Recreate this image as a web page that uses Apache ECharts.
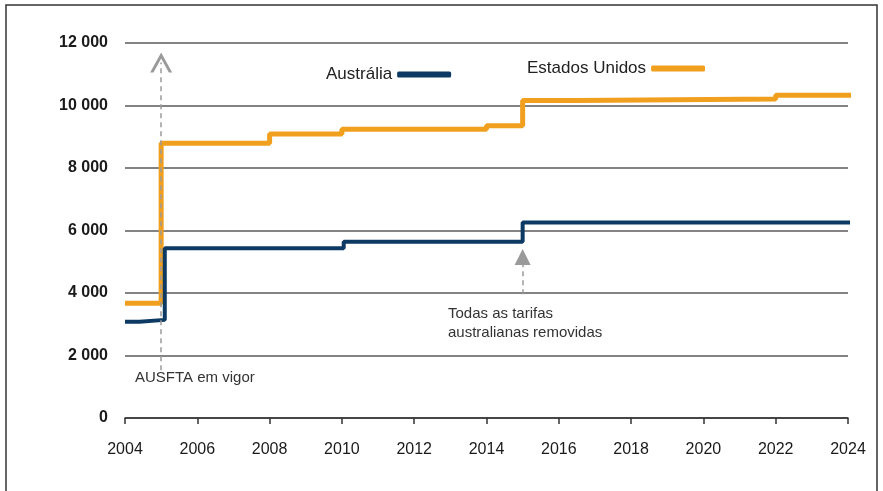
<!DOCTYPE html>
<html>
<head>
<meta charset="utf-8">
<script src="https://cdn.jsdelivr.net/npm/echarts@6/dist/echarts.min.js"></script>
<style>
  html, body { margin: 0; padding: 0; background: #fff; }
  #chart { width: 883px; height: 491px; }
</style>
</head>
<body>
<div id="chart"></div>
<script>
// step data (year of change, level from then on)
var usYears = [2004, 2005, 2008, 2010, 2014, 2015, 2016.5, 2022, 2024.13];
var usValues = [3670, 8790, 9090, 9240, 9350, 10160, 10210, 10330, 10330];
var auYears = [2004, 2004.4, 2005.1, 2010.05, 2015, 2024.08];
var auValues = [3080, 3140, 5430, 5640, 6260, 6260];

var usName = 'Estados Unidos';
var auName = 'Austrália';
var noteFta = 'AUSFTA em vigor';
var noteTariffs = 'Todas as tarifas\naustralianas removidas';

function pairs(xs, ys) {
    var out = [];
    for (var i = 0; i < xs.length; i++) out.push([xs[i], ys[i]]);
    return out;
}

var font = "'Liberation Sans', Arial, sans-serif";
var chevron = 'path://M0,12 L6,0 L12,12 L10.2,12 L6,3.6 L1.8,12 Z';

var myChart = echarts.init(document.getElementById('chart'));

var option = {
    animation: false,
    grid: { left: 125, right: 35, top: 43, bottom: 73 },
    legend: [
        {
            data: [auName], left: 321, top: 61, align: 'right',
            icon: 'roundRect', itemWidth: 54, itemHeight: 6, itemGap: 0,
            textStyle: { fontFamily: font, fontSize: 17, color: '#222' }
        },
        {
            data: [usName], left: 522, top: 55, align: 'right',
            icon: 'roundRect', itemWidth: 54, itemHeight: 6, itemGap: 0,
            textStyle: { fontFamily: font, fontSize: 17, color: '#222' }
        }
    ],
    xAxis: {
        type: 'value', min: 2004, max: 2024, interval: 2,
        axisLine: { lineStyle: { color: '#333', width: 1.5 } },
        axisTick: { show: true, length: 6, inside: false, lineStyle: { color: '#333', width: 1.5 } },
        axisLabel: {
            margin: 24, fontFamily: font, fontSize: 16, color: '#1a1a1a',
            formatter: function (v) { return String(v); }
        },
        splitLine: { show: false }
    },
    yAxis: {
        type: 'value', min: 0, max: 12000, interval: 2000,
        axisLine: { show: false },
        axisTick: { show: false },
        axisLabel: {
            margin: 17, fontFamily: font, fontSize: 16, fontWeight: 'bold', color: '#1a1a1a',
            formatter: function (v) { return v >= 1000 ? Math.floor(v / 1000) + ' 000' : String(v); }
        },
        splitLine: { lineStyle: { color: '#5a5a5a', width: 1.5 } }
    },
    graphic: [
        {
            type: 'rect', shape: { x: 6, y: 5, width: 871, height: 500 },
            style: { fill: 'none', stroke: '#333', lineWidth: 1.5 }, silent: true
        },
        {
            type: 'text', left: 135, top: 370,
            style: { text: noteFta, font: '15px ' + font, fill: '#333' }
        },
        {
            type: 'text', left: 448, top: 304,
            style: { text: noteTariffs, font: '15px ' + font, fill: '#333', lineHeight: 19 }
        }
    ],
    series: [
        {
            name: auName, type: 'line', step: 'end', symbol: 'none', clip: false,
            data: pairs(auYears, auValues),
            itemStyle: { color: '#0d3a62' },
            lineStyle: { color: '#0d3a62', width: 4 },
            z: 3,
            markLine: {
                silent: true, animation: false,
                label: { show: false },
                lineStyle: { color: '#9a9a9a', width: 1.5, type: [5, 4] },
                data: [
                    [
                        { coord: [2005, 1530], symbol: 'none' },
                        { coord: [2005, 11380], symbol: chevron, symbolSize: [22, 20], itemStyle: { color: '#9a9a9a' } }
                    ],
                    [
                        { coord: [2015, 3960], symbol: 'none' },
                        { coord: [2015, 5150], symbol: 'triangle', symbolSize: [16, 16], itemStyle: { color: '#9a9a9a' } }
                    ]
                ]
            }
        },
        {
            name: usName, type: 'line', step: 'end', symbol: 'none', clip: false,
            data: pairs(usYears, usValues),
            itemStyle: { color: '#f0a01e' },
            lineStyle: { color: '#f0a01e', width: 5 },
            z: 2
        }
    ]
};

myChart.setOption(option);
</script>
</body>
</html>
